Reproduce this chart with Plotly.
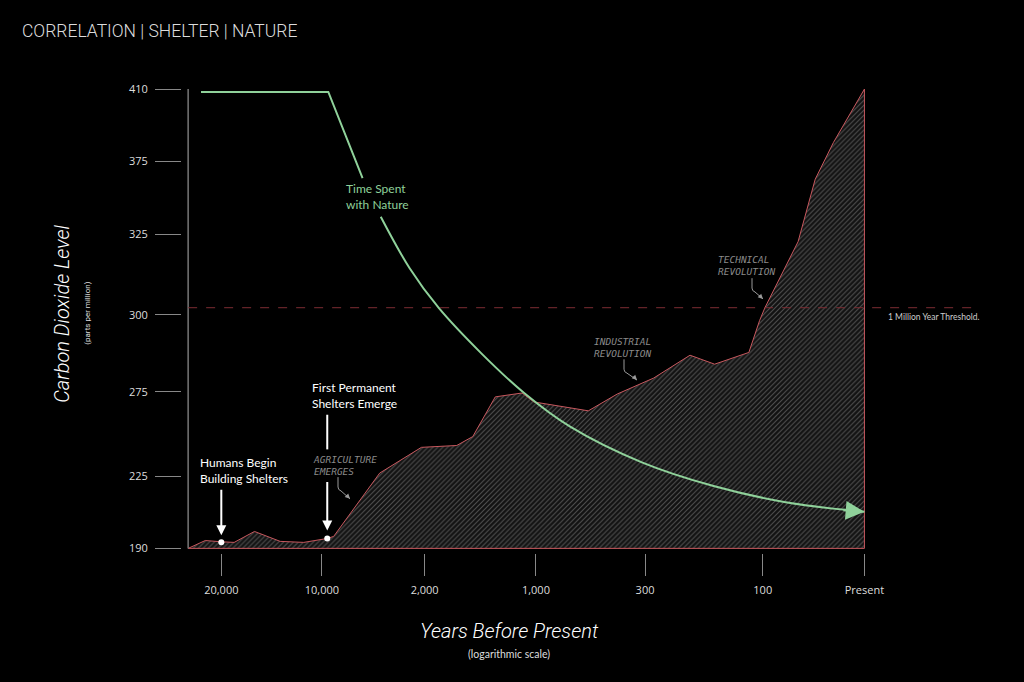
import numpy as np
import plotly.graph_objects as go

# axis scales (the reference spaces its ticks evenly, not by value)
X_TICK_LABELS = ["20,000", "10,000", "2,000", "1,000", "300", "100", "Present"]
X_TICK_POS = [0.0, 0.94, 1.90, 2.94, 3.96, 5.06, 6.01]
Y_TICK_PPM = [190, 225, 275, 300, 325, 375, 410]
Y_TICK_SLOT = [0.0, 0.944, 2.043, 3.052, 4.099, 5.056, 6.0]

# CO2 curve (x in axis position, y in ppm)
co2_x = [-0.31, -0.15, 0.00, 0.12, 0.31, 0.55, 0.77, 0.99, 1.05, 1.48, 1.87, 2.20, 2.35, 2.56,
         2.81, 2.92, 3.43, 3.70, 4.04, 4.38, 4.61, 4.93, 5.03, 5.08, 5.39, 5.55, 5.72, 6.01]
co2_ppm = [190, 193.8, 193.2, 192.9, 198.2, 193.4, 192.9, 194.8, 195.8, 226.8, 242.1, 243.2, 248.5, 272.1,
           274.4, 269.1, 263.8, 273.8, 279.5, 286.9, 284.0, 287.8, 298.1, 302.2, 322.8, 362.8, 384.1, 410]

# time spent with nature (drawn in two pieces around its label)
nature_x1 = [-0.19, 1.00, 1.32]
nature_y1 = [408.6, 408.6, 363.5]
nature_x2 = [1.49, 1.76, 2.03, 2.43, 2.83, 3.26, 3.93, 4.60, 5.26, 6.01]
nature_y2 = [337.2, 314.5, 302.2, 287.5, 274.4, 254.4, 233.2, 220.2, 212.5, 207.7]

events_x = [0.00, 0.99]
events_ppm = [193.0, 194.8]
threshold_ppm = 302.2


def slot(ppm):
    return np.interp(ppm, Y_TICK_PPM, Y_TICK_SLOT)


def px(x):
    return x / 1024


def py(y):
    return 1 - y / 682


GREEN = "#8fd19a"
RED = "#c8585e"
GREY = "#8a8a8a"

fig = go.Figure()

# hatched CO2 area, closed along the bottom
poly_x = co2_x + [co2_x[-1], co2_x[0]]
poly_y = list(slot(co2_ppm)) + [slot(190), slot(190)]
fig.add_trace(go.Scatter(x=poly_x, y=poly_y, mode="lines", fill="toself",
                         line=dict(color=RED, width=1),
                         fillcolor="rgba(0,0,0,0)",
                         fillpattern=dict(shape="/", bgcolor="#121212", fgcolor="#909090",
                                          size=3.5, solidity=0.3),
                         hoverinfo="skip"))

fig.add_trace(go.Scatter(x=nature_x1, y=slot(nature_y1), mode="lines",
                         line=dict(color=GREEN, width=2), hoverinfo="skip"))
fig.add_trace(go.Scatter(x=nature_x2, y=slot(nature_y2), mode="lines", line_shape="spline",
                         line=dict(color=GREEN, width=2), hoverinfo="skip"))

fig.add_trace(go.Scatter(x=events_x, y=slot(events_ppm), mode="markers",
                         marker=dict(color="white", size=6), hoverinfo="skip"))

shapes = [
    # y axis line
    dict(type="line", xref="x", yref="y", x0=-0.31, x1=-0.31, y0=0, y1=6,
         line=dict(color="#777777", width=1.5)),
    # 1 million year threshold
    dict(type="line", xref="x", yref="y", x0=-0.31, x1=7.03,
         y0=slot(threshold_ppm), y1=slot(threshold_ppm),
         line=dict(color="#7d2d33", width=1, dash="dash")),
    # upper piece of the "first permanent shelters" arrow
    dict(type="line", xref="x", yref="paper", x0=0.99, x1=0.99, y0=py(415), y1=py(450),
         line=dict(color="white", width=2)),
]

ann = []
# arrows to the events
ann.append(dict(x=events_x[0], y=slot(events_ppm[0]), xref="x", yref="y", text="",
                showarrow=True, ax=0, ay=-54, standoff=7, arrowcolor="white",
                arrowwidth=2, arrowhead=2, arrowsize=1))
ann.append(dict(x=events_x[1], y=slot(events_ppm[1]), xref="x", yref="y", text="",
                showarrow=True, ax=0, ay=-58, standoff=8, arrowcolor="white",
                arrowwidth=2, arrowhead=2, arrowsize=1))
# arrow head at end of nature curve
ann.append(dict(x=nature_x2[-1], y=slot(nature_y2[-1]), xref="x", yref="y",
                ax=5.80, ay=slot(208.6), axref="x", ayref="y", text="",
                showarrow=True, arrowcolor=GREEN, arrowwidth=2.5, arrowhead=2, arrowsize=1.5))

label_font = dict(family="Lato, Open Sans, sans-serif", size=12, color="white")
mono_font = dict(family="DejaVu Sans Mono, monospace", size=9.5, color=GREY, style="italic")


def text(x, y, t, font, xanchor="left", **kw):
    ann.append(dict(x=px(x), y=py(y), xref="paper", yref="paper", text=t, showarrow=False,
                    xanchor=xanchor, yanchor="middle", align="left", font=font, **kw))


text(20, 27, "CORRELATION | SHELTER | NATURE",
     dict(family="Roboto, sans-serif", size=17.5, color="#dddddd", weight=300))
text(198, 471, "Humans Begin<br>Building Shelters", label_font)
text(310, 396, "First Permanent<br>Shelters Emerge", label_font)
text(344, 195, "Time Spent<br>with Nature", dict(label_font, color=GREEN))
text(311, 466, "AGRICULTURE<br>EMERGES", mono_font)
text(592, 347, "INDUSTRIAL<br>REVOLUTION", mono_font)
text(716, 264, "TECHNICAL<br>REVOLUTION", mono_font)
text(886, 316, "1 Million Year Threshold.",
     dict(family="Lato, sans-serif", size=8.5, color="#cccccc"))

# small grey bent pointer arrows: (start, bend, tip)
pointers = [((338, 478), (338, 488), (350, 500)),
            ((624, 359), (624, 369), (637, 380)),
            ((752, 277), (752, 287), (763, 298))]
for start, bend, tip in pointers:
    shapes.append(dict(type="path", xref="paper", yref="paper",
                       path=f"M {px(start[0])},{py(start[1])} L {px(bend[0])},{py(bend[1])} "
                            f"Q {px(bend[0])},{py(bend[1] + 3)} {px(bend[0] + 3)},{py(bend[1] + 4)} "
                            f"L {px(tip[0])},{py(tip[1])}",
                       line=dict(color="#9a9a9a", width=1)))
    ann.append(dict(x=px(tip[0]), y=py(tip[1]), xref="paper", yref="paper", text="",
                    showarrow=True, ax=-5, ay=-5, arrowcolor="#9a9a9a",
                    arrowwidth=1, arrowhead=2, arrowsize=1))

# axis titles
title_font = dict(family="Roboto, sans-serif", size=20, color="white", style="italic", weight=300)
text(62, 313, "Carbon Dioxide Level", title_font, xanchor="center", textangle=-90)
text(88, 313, "(parts per million)", dict(family="Roboto, sans-serif", size=8, color="#dddddd"),
     xanchor="center", textangle=-90)
text(509, 634, "Years Before Present", title_font, xanchor="center")
text(509, 657, "(logarithmic scale)", dict(family="Lato, sans-serif", size=10.5, color="#dddddd"),
     xanchor="center")

tick_font = dict(family="Open Sans, sans-serif", size=11, color="#dddddd")

fig.update_layout(
    width=1024, height=682,
    paper_bgcolor="black", plot_bgcolor="black",
    margin=dict(l=0, r=0, t=0, b=0),
    showlegend=False,
    shapes=shapes,
    annotations=ann,
    xaxis=dict(domain=[px(186), px(980)], range=[-0.33, 7.09], anchor="free", position=py(555),
               tickmode="array", tickvals=X_TICK_POS, ticktext=X_TICK_LABELS,
               ticks="outside", ticklen=22, tickcolor="#888888", tickwidth=1,
               ticklabelstandoff=4, tickfont=tick_font,
               showgrid=False, zeroline=False, showline=False, fixedrange=True),
    yaxis=dict(domain=[py(553.9), py(82.1)], range=[-0.05, 6.05], anchor="free", position=px(181),
               tickmode="array", tickvals=Y_TICK_SLOT, ticktext=[str(v) for v in Y_TICK_PPM],
               ticks="outside", ticklen=26, tickcolor="#888888", tickwidth=1,
               ticklabelstandoff=5, tickfont=tick_font,
               showgrid=False, zeroline=False, showline=False, fixedrange=True),
)

page_fix = ("var h=document.documentElement, b=document.body;"
            "h.style.overflow='hidden'; h.style.height='682px';"
            "b.style.margin='0'; b.style.height='682px'; b.style.overflow='hidden';"
            "b.style.background='black';")
fig.write_html("out.html", config=dict(displayModeBar=False), post_script=page_fix)
